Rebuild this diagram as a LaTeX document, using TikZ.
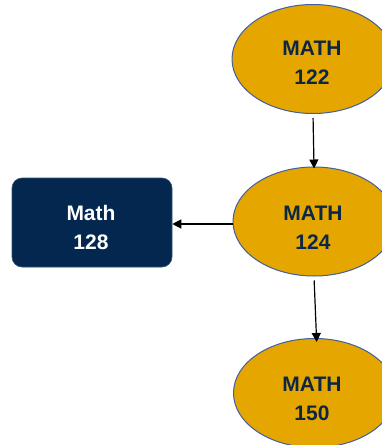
\documentclass[tikz,border=0pt]{standalone}
\usepackage{fontspec}
\setmainfont{Liberation Sans}
\usetikzlibrary{shapes.geometric,arrows.meta}
\definecolor{gold}{HTML}{E6A600}
\definecolor{edgeblue}{HTML}{3F5F9E}
\definecolor{navy}{HTML}{03274F}
\definecolor{txtnavy}{HTML}{0C2746}
\tikzset{
  course/.style={ellipse, draw=edgeblue, line width=1pt, fill=gold, minimum width=162pt, minimum height=109pt, inner sep=0pt},
  coursetxt/.style={text=txtnavy, font=\fontsize{21}{29}\selectfont\bfseries, align=center},
  boxnode/.style={draw=navy!80!white, line width=0.6pt, fill=navy, rounded corners=10pt, minimum width=160pt, minimum height=89pt, inner sep=0pt},
  boxtxt/.style={text=white, font=\fontsize{21}{29}\selectfont\bfseries, align=center},
  link/.style={line width=1.2pt, -{Triangle[length=9pt,width=9pt]}}
}
\begin{document}
\begin{tikzpicture}[x=1pt,y=-1pt]
\useasboundingbox (0,0) rectangle (382,445);
\fill[white] (0,0) rectangle (382,445);
\begin{scope}
\clip (0,0) rectangle (382,445);
\node[course] (e1) at (313,59) {};
\node[course] (e2) at (314,221.5) {};
\node[course] (e3) at (314.5,393) {};
\end{scope}
\node[coursetxt] (t1) at (312,62.5) {MATH\\122};
\node[coursetxt] (t2) at (313,227.5) {MATH\\124};
\node[coursetxt] (t3) at (312,398.5) {MATH\\150};
\node[boxnode] (b) at (92,222.5) {};
\node[boxtxt] (bt) at (91,227.5) {Math\\128};
\draw[link, shorten <=4pt, shorten >=-2pt] (e1.south) -- (e2.north);
\draw[link, shorten <=4pt, shorten >=-4pt] (e2.south) -- ([xshift=2pt]e3.north);
\draw[link] (e2.west |- 0,224) -- (b.east |- 0,224);
\end{tikzpicture}
\end{document}
